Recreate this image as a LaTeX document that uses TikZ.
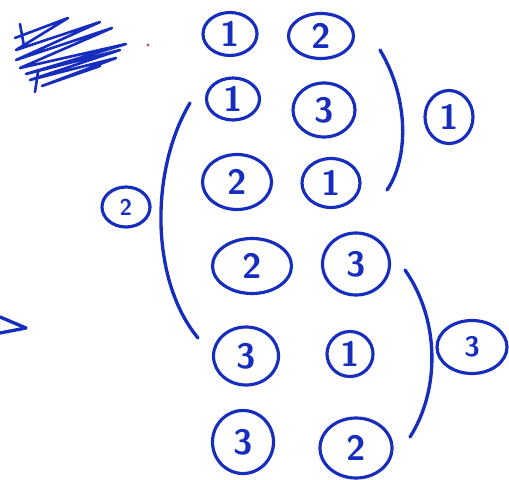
\documentclass[tikz,border=0pt]{standalone}
\usepackage{tikz}
\usetikzlibrary{shapes.geometric}
\definecolor{penblue}{RGB}{22,45,190}
\definecolor{penred}{RGB}{220,70,90}
\tikzset{
  ring/.style 2 args={ellipse, draw=penblue, text=penblue, line width=1.8pt,
    inner sep=0pt, minimum width=#1*0.02cm, minimum height=#2*0.02cm,
    font=\sffamily\bfseries\fontsize{20}{20}\selectfont},
  pen/.style={draw=penblue, line width=1.9pt, line cap=round, line join=round},
}
\begin{document}
\begin{tikzpicture}[x=0.02cm, y=-0.02cm]
    \useasboundingbox (0,0) rectangle (509,479);
    % scribbled-out word
    \draw[pen, line width=1.5pt] (15,38) -- (68,18) -- (16,50) -- (100,22)
          -- (16,60) -- (112,28) -- (20,68) -- (126,44) -- (26,74)
          -- (120,50) -- (30,80) -- (116,58) -- (42,86) -- (100,66);
    \draw[pen, line width=1.5pt] (20,24) -- (24,46);
    \draw[pen, line width=1.5pt] (38,72) -- (35,92);
    \fill[penred] (148,45) circle (1.6);
    % arrow tip at the left edge
    \draw[pen] (0,317) -- (26,328) -- (0,333);
    % pairs, first column
    \node[ring={54}{43}] (p1a) at (230,34) {1};
    \node[ring={53}{42}] (p2a) at (233,99) {1};
    \node[ring={69}{55}] (p3a) at (237,182) {2};
    \node[ring={79}{55}] (p4a) at (252,266) {2};
    \node[ring={65}{58}] (p5a) at (246,356) {3};
    \node[ring={61}{63}] (p6a) at (243,442) {3};
    % pairs, second column
    \node[ring={65}{45}] (p1b) at (321,36) {2};
    \node[ring={62}{54}] (p2b) at (324,110) {3};
    \node[ring={58}{49}] (p3b) at (331,183) {1};
    \node[ring={67}{62}] (p4b) at (356,264) {3};
    \node[ring={46}{45}] (p5b) at (350,354) {1};
    \node[ring={72}{60}] (p6b) at (356,448) {2};
    % group 1
    \coordinate (g1top) at (380,50);
    \coordinate (g1bot) at (387,190);
    \draw[pen] (g1top) .. controls (410,100) and (408,160) .. (g1bot);
    \node[ring={48}{53}] (g1) at (449,117) {1};
    % group 2
    \coordinate (g2top) at (190,103);
    \coordinate (g2bot) at (198,338);
    \draw[pen] (g2top) .. controls (150,170) and (150,280) .. (g2bot);
    \node[ring={48}{40}, font=\sffamily\bfseries\fontsize{13}{13}\selectfont] (g2) at (126,207) {2};
    % group 3
    \coordinate (g3top) at (405,270);
    \coordinate (g3bot) at (410,437);
    \draw[pen] (g3top) .. controls (440,320) and (440,390) .. (g3bot);
    \node[ring={70}{53}, font=\sffamily\bfseries\fontsize{16}{16}\selectfont] (g3) at (472,347) {3};
\end{tikzpicture}
\end{document}
